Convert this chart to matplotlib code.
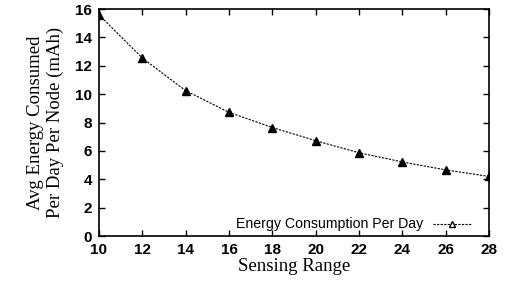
import matplotlib
matplotlib.use("Agg")
import matplotlib.pyplot as plt

# sensing range vs. average energy consumed per day per node
sensing_range = [10, 12, 14, 16, 18, 20, 22, 24, 26, 28]
energy_per_day = [15.6, 12.55, 10.25, 8.72, 7.65, 6.72, 5.87, 5.22, 4.66, 4.2]

x_ticks = [10, 12, 14, 16, 18, 20, 22, 24, 26, 28]
y_ticks = [0, 2, 4, 6, 8, 10, 12, 14, 16]

fig = plt.figure(figsize=(5.1, 2.84), dpi=100)
ax = fig.add_axes([0.194, 0.169, 0.765, 0.799])

ax.plot(sensing_range, energy_per_day, color='black', linestyle=(0, (2, 1.2)),
        linewidth=0.8, marker='^', markersize=6, markerfacecolor='black',
        markeredgecolor='black', label='Energy Consumption Per Day')

ax.set_xlim(10, 28)
ax.set_ylim(0, 16)
ax.set_xticks(x_ticks)
ax.set_yticks(y_ticks)
ax.tick_params(direction='in', top=True, right=True, length=4, width=1,
               labelsize=11, pad=5)
for lab in ax.get_xticklabels() + ax.get_yticklabels():
    lab.set_family('Liberation Sans')
    lab.set_fontweight('bold')
for s in ax.spines.values():
    s.set_linewidth(1.2)

ax.set_xlabel('Sensing Range', family='Liberation Serif', fontsize=13.5, labelpad=1)
ax.set_ylabel('Avg Energy Consumed\nPer Day Per Node (mAh)', family='Liberation Serif',
              fontsize=13.5, labelpad=8, linespacing=1.18)

leg = ax.legend(loc='lower right', frameon=False, markerfirst=False,
                prop={'family': 'Liberation Sans', 'size': 10.2},
                handlelength=2.7, borderaxespad=0, borderpad=0, handletextpad=0.7,
                bbox_to_anchor=(0.955, 0.02))
h = leg.legend_handles[0]
h.set_markerfacecolor('white')
h.set_markersize(5)

fig.savefig('out.png', dpi=100)
